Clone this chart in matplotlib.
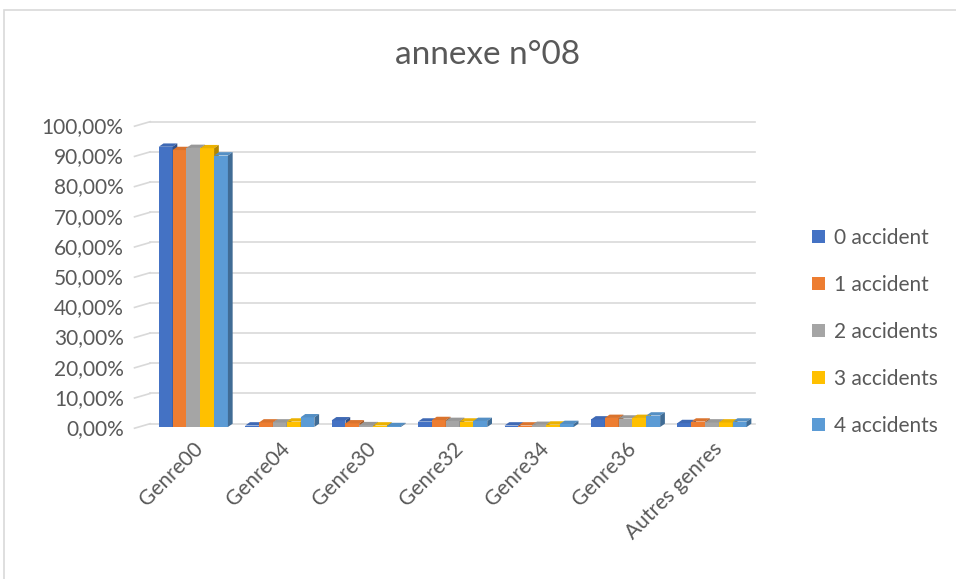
import matplotlib.pyplot as plt
from matplotlib.patches import Polygon, Rectangle
from matplotlib.ticker import FuncFormatter
import numpy as np

plt.rcParams['font.family'] = ['Lato', 'DejaVu Sans']

# data (share of vehicles per genre)
genres = ['Genre00', 'Genre04', 'Genre30', 'Genre32', 'Genre34', 'Genre36', 'Autres genres']
series = ['0 accident', '1 accident', '2 accidents', '3 accidents', '4 accidents']
acc0 = [0.928, 0.005, 0.022, 0.018, 0.005, 0.025, 0.013]
acc1 = [0.917, 0.015, 0.012, 0.023, 0.005, 0.030, 0.018]
acc2 = [0.924, 0.015, 0.006, 0.020, 0.007, 0.028, 0.015]
acc3 = [0.923, 0.018, 0.005, 0.018, 0.008, 0.030, 0.015]
acc4 = [0.899, 0.032, 0.003, 0.020, 0.010, 0.038, 0.018]
colors = ['#4472C4', '#ED7D31', '#A5A5A5', '#FFC000', '#5B9BD5']
yticks = np.arange(0, 1.01, 0.1)

def shade(c, f):
    r, g, b = plt.matplotlib.colors.to_rgb(c)
    return (r * f, g * f, b * f)

fig = plt.figure(figsize=(9.56, 5.79), dpi=100)
fig.patches.append(Rectangle((4 / 956, -0.1), 1.2, 1 - 10 / 579 + 0.1, transform=fig.transFigure,
                             fill=False, edgecolor='#D9D9D9', linewidth=1.2))
ax = fig.add_axes([0.157, 0.2625, 0.633, 0.5216])

x = np.arange(len(genres))
w = 0.16
dx, dy = 0.055, 0.011   # depth offset of the 3D faces
data = [acc0, acc1, acc2, acc3, acc4]

# gridlines with a slanted side-wall piece on the left
for t in yticks:
    ax.plot([-0.5, len(genres) - 0.5], [t + dy, t + dy], color='#D9D9D9', lw=1.2, zorder=0, clip_on=False)
    ax.plot([-0.68, -0.5], [t - 0.004, t + dy], color='#D9D9D9', lw=1.2, zorder=0, clip_on=False)

for i, (vals, c) in enumerate(zip(data, colors)):
    xs = x + (i - 2) * w
    ax.bar(xs, vals, width=w, color=c, edgecolor='none', zorder=2 + i, label=series[i])
    for xi, v in zip(xs, vals):
        l, r = xi - w / 2, xi + w / 2
        top = Polygon([(l, v), (r, v), (r + dx, v + dy), (l + dx, v + dy)],
                      closed=True, facecolor=shade(c, 0.92), edgecolor='none', zorder=2 + i)
        side = Polygon([(r, 0), (r + dx, dy), (r + dx, v + dy), (r, v)],
                       closed=True, facecolor=shade(c, 0.7), edgecolor='none', zorder=2 + i)
        ax.add_patch(top)
        ax.add_patch(side)

ax.set_xlim(-0.5, len(genres) - 0.5)
ax.set_ylim(0, 1.0)
ax.set_yticks(yticks)
ax.yaxis.set_major_formatter(FuncFormatter(lambda v, p: f'{v * 100:.2f}%'.replace('.', ',')))
ax.set_xticks(x)
ax.set_xticklabels(genres, rotation=45, ha='right', rotation_mode='anchor')
ax.tick_params(axis='both', length=0, labelsize=15, labelcolor='#595959')
ax.tick_params(axis='y', pad=19)
ax.tick_params(axis='x', pad=8)
for s in ax.spines.values():
    s.set_visible(False)

fig.text(0.51, 0.905, 'annexe n°08', ha='center', va='center', fontsize=24, color='#595959')

leg = ax.legend(loc='center left', bbox_to_anchor=(812 / 956, 1 - 332 / 579), bbox_transform=fig.transFigure,
                frameon=False, fontsize=15, labelcolor='#595959', handlelength=0.6, handleheight=0.6,
                handletextpad=0.45, labelspacing=1.3, borderaxespad=0, borderpad=0)

fig.savefig('out.png', dpi=100)
